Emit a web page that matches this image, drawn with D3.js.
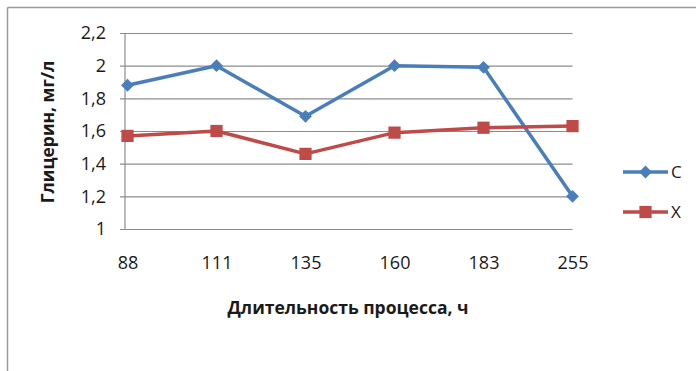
<!DOCTYPE html>
<html><head><meta charset="utf-8">
<script src="https://cdn.jsdelivr.net/npm/d3@7"></script>
<style>body{margin:0;background:#fff}svg{display:block}text{font-family:"Open Sans",sans-serif;fill:#1a1a1a}</style>
</head><body>
<script>
const categories = ["88","111","135","160","183","255"];
const seriesC = [1.88, 2.0, 1.69, 2.0, 1.99, 1.2];
const seriesX = [1.57, 1.60, 1.46, 1.59, 1.62, 1.63];
const yTicks = [1, 1.2, 1.4, 1.6, 1.8, 2, 2.2];
const seriesNames = ["C", "X"];
const colors = ["#4A7EBB", "#BE4B48"];

const W = 699, H = 371;
const svg = d3.select("body").append("svg").attr("width", W).attr("height", H);

// chart frame (top and left edges visible)
svg.append("line").attr("x1",7.5).attr("x2",696).attr("y1",7.5).attr("y2",7.5).attr("stroke","#9a9a9a").attr("stroke-width",1.5);
svg.append("line").attr("x1",7.5).attr("x2",7.5).attr("y1",7.5).attr("y2",371).attr("stroke","#9a9a9a").attr("stroke-width",1.5);

const x = d3.scalePoint().domain(categories).range([127.5, 572.5]);
const y = d3.scaleLinear().domain([1, 2.2]).range([229, 33]);
const fmt = d => String(d).replace(".", ",");

// gridlines + y axis
const yAxis = d3.axisLeft(y).tickValues(yTicks).tickFormat(fmt).tickSize(-(572.5-125)).tickPadding(0);
const gy = svg.append("g").attr("transform","translate(125,0)").call(yAxis);
gy.select(".domain").remove();
gy.selectAll(".tick line").attr("stroke","#8c8c8c").attr("stroke-width",1.2).attr("x1",-5);
gy.selectAll(".tick text").attr("x",-19).attr("font-size",18).style("font-family","Open Sans");
svg.append("line").attr("x1",125).attr("x2",125).attr("y1",33).attr("y2",229).attr("stroke","#8c8c8c").attr("stroke-width",1.2);

// x axis labels
const xAxis = d3.axisBottom(x).tickSize(0).tickPadding(25);
const gx = svg.append("g").attr("transform","translate(0,229)").call(xAxis);
gx.select(".domain").remove();
gx.selectAll(".tick text").attr("font-size",18).attr("dy","0.32em").attr("y",34).style("font-family","Open Sans");

// titles
svg.append("text").attr("x",348).attr("y",308).attr("dy","0.35em").attr("text-anchor","middle")
  .attr("font-size",17.5).attr("font-weight","bold").text("Длительность процесса, ч");
svg.append("text").attr("transform","translate(48,132) rotate(-90)").attr("dy","0.35em").attr("text-anchor","middle")
  .attr("font-size",17.5).attr("font-weight","bold").text("Глицерин, мг/л");

const line = d3.line().x((d,i)=>x(categories[i])).y(d=>y(d));
const data = [seriesC, seriesX];
const diamond = d3.symbol().type(d3.symbolDiamond2).size(105);
const square = d3.symbol().type(d3.symbolSquare2).size(190);
const symbols = [diamond, square];

data.forEach((s, k) => {
  svg.append("path").datum(s).attr("d", line).attr("fill","none").attr("stroke",colors[k]).attr("stroke-width",3.5).attr("stroke-linejoin","round");
  svg.selectAll(null).data(s).enter().append("path")
    .attr("transform",(d,i)=>`translate(${x(categories[i])},${y(d)})`)
    .attr("d", symbols[k]).attr("fill",colors[k]);
});

// legend
const legendY = [172, 212];
seriesNames.forEach((n,k) => {
  svg.append("line").attr("x1",623).attr("x2",668).attr("y1",legendY[k]).attr("y2",legendY[k]).attr("stroke",colors[k]).attr("stroke-width",3.5);
  svg.append("path").attr("transform",`translate(645.5,${legendY[k]})`).attr("d",symbols[k]).attr("fill",colors[k]);
  svg.append("text").attr("x",671).attr("y",legendY[k]).attr("dy","0.35em").attr("font-size",17).text(n);
});
</script>
</body></html>
